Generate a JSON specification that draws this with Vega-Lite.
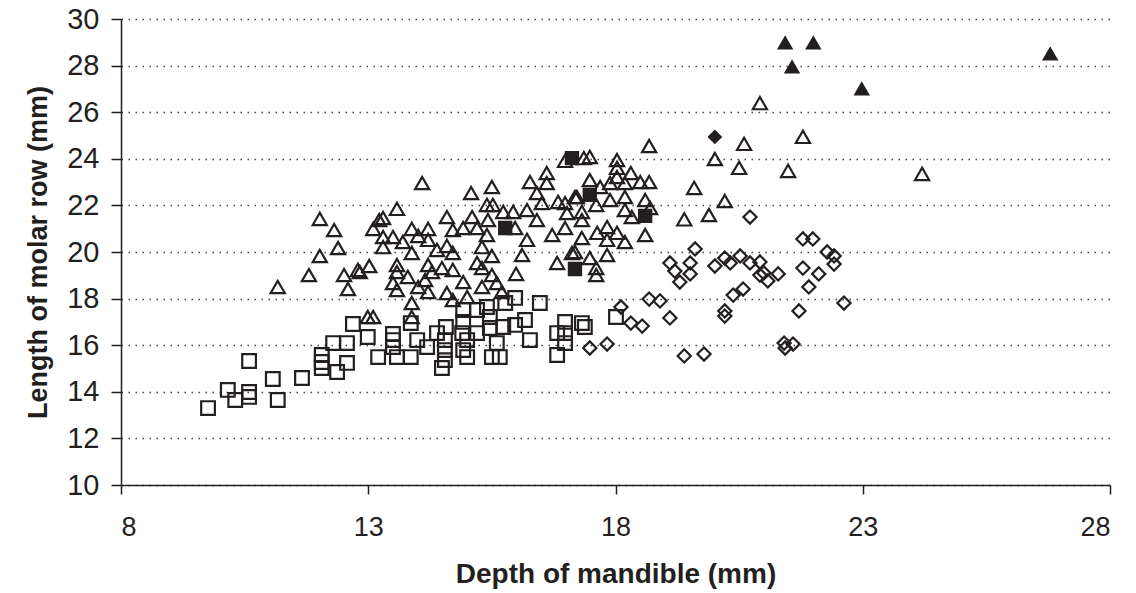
{
  "$schema": "https://vega.github.io/schema/vega-lite/v6.json",
  "autosize": {"type": "none"},
  "padding": {"left": 121, "top": 19, "right": 26, "bottom": 108},
  "width": 989,
  "height": 466,
  "background": "white",
  "config": {
    "view": {"stroke": null},
    "font": "Liberation Sans",
    "axis": {"labelFont": "Liberation Sans", "titleFont": "Liberation Sans", "labelColor": "#231f20", "titleColor": "#231f20", "domainColor": "#231f20", "tickColor": "#231f20"}
  },
  "data": {"values": [
    {"x":12.02,"y":21.42,"g":"T"},{"x":12.31,"y":20.94,"g":"T"},{"x":12.39,"y":20.17,"g":"T"},{"x":12.02,"y":19.83,"g":"T"},
    {"x":11.80,"y":19.01,"g":"T"},{"x":11.17,"y":18.50,"g":"T"},{"x":12.51,"y":19.01,"g":"T"},{"x":12.59,"y":18.41,"g":"T"},
    {"x":12.79,"y":19.23,"g":"T"},{"x":13.02,"y":19.40,"g":"T"},{"x":13.22,"y":21.37,"g":"T"},{"x":13.10,"y":20.99,"g":"T"},
    {"x":13.30,"y":21.46,"g":"T"},{"x":13.58,"y":21.85,"g":"T"},{"x":13.30,"y":20.64,"g":"T"},{"x":13.50,"y":20.64,"g":"T"},
    {"x":13.30,"y":20.21,"g":"T"},{"x":13.70,"y":20.43,"g":"T"},{"x":13.88,"y":20.99,"g":"T"},{"x":14.01,"y":20.69,"g":"T"},
    {"x":14.21,"y":20.99,"g":"T"},{"x":14.21,"y":20.52,"g":"T"},{"x":13.88,"y":19.96,"g":"T"},{"x":14.09,"y":22.96,"g":"T"},
    {"x":14.59,"y":21.50,"g":"T"},{"x":14.71,"y":20.94,"g":"T"},{"x":15.10,"y":21.50,"g":"T"},{"x":14.92,"y":21.03,"g":"T"},
    {"x":15.20,"y":21.03,"g":"T"},{"x":15.40,"y":22.02,"g":"T"},{"x":15.52,"y":22.02,"g":"T"},{"x":15.42,"y":21.37,"g":"T"},
    {"x":15.40,"y":20.73,"g":"T"},{"x":15.30,"y":20.21,"g":"T"},{"x":15.73,"y":21.72,"g":"T"},{"x":15.93,"y":21.72,"g":"T"},
    {"x":15.97,"y":21.03,"g":"T"},{"x":16.21,"y":21.80,"g":"T"},{"x":16.21,"y":20.52,"g":"T"},{"x":16.41,"y":21.37,"g":"T"},
    {"x":16.51,"y":22.10,"g":"T"},{"x":16.72,"y":20.73,"g":"T"},{"x":16.84,"y":22.15,"g":"T"},{"x":17.02,"y":21.67,"g":"T"},
    {"x":16.98,"y":21.03,"g":"T"},{"x":17.22,"y":22.36,"g":"T"},{"x":15.08,"y":22.53,"g":"T"},{"x":15.50,"y":22.79,"g":"T"},
    {"x":16.27,"y":23.00,"g":"T"},{"x":16.41,"y":22.53,"g":"T"},{"x":16.61,"y":23.39,"g":"T"},{"x":16.61,"y":22.96,"g":"T"},
    {"x":16.98,"y":23.91,"g":"T"},{"x":17.36,"y":24.03,"g":"T"},{"x":16.11,"y":19.87,"g":"T"},{"x":15.50,"y":19.83,"g":"T"},
    {"x":15.20,"y":19.53,"g":"T"},{"x":15.30,"y":19.31,"g":"T"},{"x":15.50,"y":19.01,"g":"T"},{"x":15.99,"y":19.06,"g":"T"},
    {"x":16.82,"y":19.53,"g":"T"},{"x":17.12,"y":19.96,"g":"T"},{"x":14.39,"y":20.09,"g":"T"},{"x":14.59,"y":20.26,"g":"T"},
    {"x":14.71,"y":19.96,"g":"T"},{"x":14.21,"y":19.44,"g":"T"},{"x":14.29,"y":19.14,"g":"T"},{"x":14.49,"y":19.31,"g":"T"},
    {"x":14.71,"y":19.23,"g":"T"},{"x":14.92,"y":18.71,"g":"T"},{"x":15.30,"y":18.50,"g":"T"},{"x":15.60,"y":18.67,"g":"T"},
    {"x":15.70,"y":18.28,"g":"T"},{"x":14.15,"y":18.80,"g":"T"},{"x":14.21,"y":18.28,"g":"T"},{"x":14.01,"y":18.50,"g":"T"},
    {"x":13.80,"y":18.93,"g":"T"},{"x":13.58,"y":19.44,"g":"T"},{"x":13.58,"y":19.14,"g":"T"},{"x":13.50,"y":18.67,"g":"T"},
    {"x":13.58,"y":18.37,"g":"T"},{"x":12.83,"y":19.14,"g":"T"},{"x":14.59,"y":18.24,"g":"T"},{"x":14.71,"y":17.94,"g":"T"},
    {"x":15.00,"y":18.07,"g":"T"},{"x":13.88,"y":17.81,"g":"T"},{"x":13.88,"y":17.21,"g":"T"},{"x":12.99,"y":17.21,"g":"T"},
    {"x":13.10,"y":17.21,"g":"T"},
    {"x":18.68,"y":24.55,"g":"T"},{"x":18.03,"y":23.95,"g":"T"},{"x":17.48,"y":24.08,"g":"T"},{"x":18.03,"y":23.61,"g":"T"},
    {"x":18.03,"y":23.22,"g":"T"},{"x":18.31,"y":23.39,"g":"T"},{"x":18.50,"y":23.00,"g":"T"},{"x":18.68,"y":23.00,"g":"T"},
    {"x":18.19,"y":22.96,"g":"T"},{"x":17.89,"y":22.96,"g":"T"},{"x":17.48,"y":23.09,"g":"T"},{"x":17.69,"y":22.79,"g":"T"},
    {"x":17.18,"y":22.36,"g":"T"},{"x":18.19,"y":22.36,"g":"T"},{"x":17.89,"y":22.23,"g":"T"},{"x":17.61,"y":22.02,"g":"T"},
    {"x":16.98,"y":22.10,"g":"T"},{"x":18.60,"y":22.23,"g":"T"},{"x":18.70,"y":21.89,"g":"T"},{"x":18.19,"y":21.80,"g":"T"},
    {"x":18.33,"y":21.50,"g":"T"},{"x":17.32,"y":21.72,"g":"T"},{"x":17.32,"y":21.37,"g":"T"},{"x":17.83,"y":21.07,"g":"T"},
    {"x":17.63,"y":20.82,"g":"T"},{"x":18.03,"y":20.82,"g":"T"},{"x":17.32,"y":20.60,"g":"T"},{"x":17.83,"y":20.52,"g":"T"},
    {"x":18.19,"y":20.43,"g":"T"},{"x":18.60,"y":20.73,"g":"T"},{"x":17.18,"y":20.00,"g":"T"},{"x":17.48,"y":19.74,"g":"T"},
    {"x":17.83,"y":19.87,"g":"T"},{"x":17.61,"y":19.31,"g":"T"},{"x":17.61,"y":19.01,"g":"T"},
    {"x":20.92,"y":26.39,"g":"T"},{"x":20.60,"y":24.64,"g":"T"},{"x":20.01,"y":23.99,"g":"T"},{"x":20.50,"y":23.61,"g":"T"},
    {"x":21.49,"y":23.48,"g":"T"},{"x":21.79,"y":24.94,"g":"T"},{"x":24.20,"y":23.35,"g":"T"},{"x":19.59,"y":22.75,"g":"T"},
    {"x":20.21,"y":22.19,"g":"T"},{"x":19.39,"y":21.40,"g":"T"},{"x":19.89,"y":21.59,"g":"T"},
    {"x":9.76,"y":13.30,"g":"S"},{"x":10.16,"y":14.08,"g":"S"},{"x":10.31,"y":13.65,"g":"S"},{"x":10.59,"y":13.99,"g":"S"},
    {"x":10.59,"y":13.78,"g":"S"},{"x":10.59,"y":15.32,"g":"S"},{"x":11.07,"y":14.55,"g":"S"},{"x":11.17,"y":13.65,"g":"S"},
    {"x":11.66,"y":14.59,"g":"S"},{"x":12.06,"y":15.58,"g":"S"},{"x":12.06,"y":15.28,"g":"S"},{"x":12.06,"y":15.02,"g":"S"},
    {"x":12.29,"y":16.09,"g":"S"},{"x":12.37,"y":14.85,"g":"S"},{"x":12.57,"y":16.09,"g":"S"},{"x":12.57,"y":15.24,"g":"S"},
    {"x":12.69,"y":16.91,"g":"S"},{"x":12.99,"y":16.35,"g":"S"},{"x":13.20,"y":15.49,"g":"S"},{"x":13.50,"y":16.48,"g":"S"},
    {"x":13.50,"y":16.22,"g":"S"},{"x":13.50,"y":15.92,"g":"S"},{"x":13.58,"y":15.49,"g":"S"},{"x":13.86,"y":15.49,"g":"S"},
    {"x":13.99,"y":16.22,"g":"S"},{"x":14.19,"y":15.92,"g":"S"},{"x":14.39,"y":16.52,"g":"S"},{"x":14.57,"y":16.78,"g":"S"},
    {"x":14.55,"y":16.22,"g":"S"},{"x":14.55,"y":15.79,"g":"S"},{"x":14.55,"y":15.36,"g":"S"},{"x":14.49,"y":15.02,"g":"S"},
    {"x":14.92,"y":17.51,"g":"S"},{"x":14.92,"y":17.00,"g":"S"},{"x":14.90,"y":16.52,"g":"S"},{"x":15.00,"y":16.22,"g":"S"},
    {"x":14.92,"y":15.79,"g":"S"},{"x":15.00,"y":15.49,"g":"S"},{"x":15.20,"y":17.51,"g":"S"},{"x":15.20,"y":16.52,"g":"S"},
    {"x":15.40,"y":17.64,"g":"S"},{"x":15.46,"y":17.21,"g":"S"},{"x":15.46,"y":16.74,"g":"S"},{"x":15.60,"y":16.09,"g":"S"},
    {"x":15.50,"y":15.49,"g":"S"},{"x":15.66,"y":15.49,"g":"S"},{"x":15.77,"y":17.81,"g":"S"},{"x":15.73,"y":16.78,"g":"S"},
    {"x":15.97,"y":18.03,"g":"S"},{"x":15.97,"y":16.87,"g":"S"},{"x":16.17,"y":17.08,"g":"S"},{"x":16.47,"y":17.81,"g":"S"},
    {"x":16.27,"y":16.22,"g":"S"},{"x":16.82,"y":16.52,"g":"S"},{"x":16.98,"y":17.00,"g":"S"},{"x":16.98,"y":16.52,"g":"S"},
    {"x":16.98,"y":16.09,"g":"S"},{"x":16.82,"y":15.58,"g":"S"},{"x":17.32,"y":16.95,"g":"S"},{"x":17.38,"y":16.78,"g":"S"},
    {"x":18.01,"y":17.21,"g":"S"},{"x":13.86,"y":16.95,"g":"S"},
    {"x":18.11,"y":17.64,"g":"D"},{"x":17.48,"y":15.88,"g":"D"},{"x":17.83,"y":16.05,"g":"D"},{"x":18.31,"y":16.95,"g":"D"},
    {"x":18.54,"y":16.82,"g":"D"},{"x":18.68,"y":17.98,"g":"D"},{"x":18.90,"y":17.90,"g":"D"},{"x":19.10,"y":17.17,"g":"D"},
    {"x":19.10,"y":19.53,"g":"D"},{"x":19.20,"y":19.18,"g":"D"},{"x":19.30,"y":18.71,"g":"D"},{"x":19.51,"y":19.53,"g":"D"},
    {"x":19.51,"y":19.06,"g":"D"},{"x":19.61,"y":20.13,"g":"D"},{"x":19.39,"y":15.54,"g":"D"},{"x":19.79,"y":15.62,"g":"D"},
    {"x":20.01,"y":19.40,"g":"D"},{"x":20.21,"y":19.74,"g":"D"},{"x":20.32,"y":19.53,"g":"D"},{"x":20.52,"y":19.83,"g":"D"},
    {"x":20.72,"y":19.53,"g":"D"},{"x":20.92,"y":19.57,"g":"D"},{"x":20.92,"y":19.01,"g":"D"},{"x":21.00,"y":19.10,"g":"D"},
    {"x":21.08,"y":18.76,"g":"D"},{"x":21.29,"y":19.06,"g":"D"},{"x":20.38,"y":18.15,"g":"D"},{"x":20.58,"y":18.41,"g":"D"},
    {"x":20.21,"y":17.47,"g":"D"},{"x":20.21,"y":17.25,"g":"D"},{"x":21.79,"y":20.56,"g":"D"},{"x":21.99,"y":20.56,"g":"D"},
    {"x":21.79,"y":19.31,"g":"D"},{"x":22.11,"y":19.06,"g":"D"},{"x":21.91,"y":18.50,"g":"D"},{"x":22.28,"y":20.00,"g":"D"},
    {"x":22.42,"y":19.83,"g":"D"},{"x":22.42,"y":19.48,"g":"D"},{"x":21.71,"y":17.47,"g":"D"},{"x":22.62,"y":17.81,"g":"D"},
    {"x":21.41,"y":16.09,"g":"D"},{"x":21.43,"y":15.88,"g":"D"},{"x":21.59,"y":16.05,"g":"D"},{"x":20.72,"y":21.50,"g":"D"},
    {"x":21.43,"y":28.97,"g":"FT"},{"x":22.00,"y":28.97,"g":"FT"},{"x":21.57,"y":27.94,"g":"FT"},{"x":22.98,"y":27.00,"g":"FT"},
    {"x":26.79,"y":28.50,"g":"FT"},
    {"x":17.12,"y":24.03,"g":"FS"},{"x":15.77,"y":21.03,"g":"FS"},{"x":18.60,"y":21.55,"g":"FS"},{"x":17.18,"y":19.27,"g":"FS"},
    {"x":17.48,"y":22.45,"g":"FS"},
    {"x":20.01,"y":24.94,"g":"FD"}
  ]},
  "mark": {"type": "point", "filled": false, "stroke": "#231f20", "strokeWidth": 2.2, "opacity": 1},
  "encoding": {
    "x": {"field": "x", "type": "quantitative",
      "scale": {"domain": [8, 28], "nice": false, "zero": false},
      "axis": {"values": [8, 13, 18, 23, 28], "grid": false, "tickSize": 9, "labelPadding": 20, "labelFontSize": 27, "labelFontWeight": "normal",
        "title": "Depth of mandible (mm)", "titleFontSize": 28, "titleFontWeight": "bold", "titlePadding": 20, "domainWidth": 1.5, "tickWidth": 1.5}},
    "y": {"field": "y", "type": "quantitative",
      "scale": {"domain": [10, 30], "nice": false, "zero": false},
      "axis": {"values": [10, 12, 14, 16, 18, 20, 22, 24, 26, 28, 30], "grid": true, "gridDash": [1.5, 5.5], "gridColor": "#444", "gridWidth": 1.5,
        "tickSize": 10, "labelPadding": 12, "labelFontSize": 29, "title": "Length of molar row (mm)", "titleFontSize": 27, "titleFontWeight": "bold",
        "titlePadding": 14, "domainWidth": 1.5, "tickWidth": 1.5}},
    "shape": {"field": "g", "type": "nominal", "legend": null,
      "scale": {"domain": ["T", "S", "D", "FT", "FS", "FD"], "range": ["triangle-up", "square", "diamond", "triangle-up", "square", "diamond"]}},
    "fill": {"field": "g", "type": "nominal", "legend": null,
      "scale": {"domain": ["T", "S", "D", "FT", "FS", "FD"], "range": ["transparent", "transparent", "transparent", "#231f20", "#231f20", "#231f20"]}},
    "size": {"field": "g", "type": "ordinal", "legend": null,
      "scale": {"domain": ["T", "S", "D", "FT", "FS", "FD"], "range": [200, 135, 155, 200, 135, 155]}}
  }
}
